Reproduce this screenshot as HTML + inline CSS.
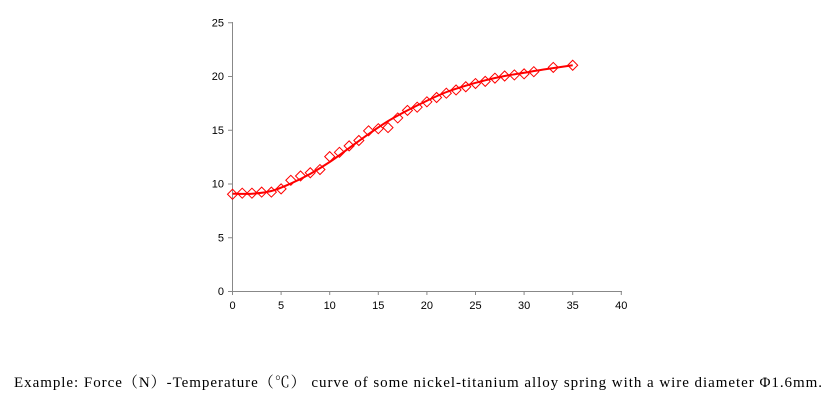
<!DOCTYPE html>
<html><head><meta charset="utf-8"><style>
body{margin:0;background:#fff;width:839px;height:401px;overflow:hidden}
svg{position:absolute;left:0;top:0}
.t{font-family:"Liberation Sans",sans-serif;font-size:11px;fill:#000}
.cap{font-family:"Liberation Serif","Noto Serif CJK SC",serif;font-size:15px;fill:#000}
</style></head><body>
<svg width="839" height="401" id="s">
<g stroke="#888" stroke-width="1" fill="none">
<line x1="232.5" y1="22" x2="232.5" y2="291"/>
<line x1="232" y1="291.5" x2="622" y2="291.5"/>
</g>
<g id="ax"></g>
<path id="curve" fill="none" stroke="#ff0000" stroke-width="2"/>
<g id="mk" fill="none" stroke="#ff0000" stroke-width="1"></g>
<text class="cap" x="14" y="387" textLength="808" lengthAdjust="spacing">Example: Force（N）-Temperature（℃） curve of some nickel-titanium alloy spring with a wire diameter  Φ1.6mm.</text>
</svg>
<script>
var X=function(v){return 232.5+v*9.72},Y=function(v){return 291-v*10.75};
var ax=document.getElementById('ax'),h='';
for(var i=0;i<=25;i+=5){var y=Y(i);h+='<line x1="228" x2="232" y1="'+(y+.5)+'" y2="'+(y+.5)+'" stroke="#888"/><text class="t" x="224" y="'+(y+4)+'" text-anchor="end">'+i+'</text>';}
for(var i=0;i<=40;i+=5){var x=X(i);h+='<line x1="'+x+'" x2="'+x+'" y1="291" y2="295" stroke="#888"/><text class="t" x="'+x+'" y="309" text-anchor="middle">'+i+'</text>';}
ax.innerHTML=h;
var d=[[0,9.0],[1,9.1],[2,9.1],[3,9.2],[4,9.2],[5,9.5],[6,10.3],[7,10.7],[8,11.0],[9,11.3],[10,12.5],[11,12.9],[12,13.5],[13,14.0],[14,14.9],[15,15.1],[16,15.2],[17,16.1],[18,16.8],[19,17.1],[20,17.6],[21,18.0],[22,18.4],[23,18.7],[24,19.0],[25,19.3],[26,19.5],[27,19.8],[28,20.0],[29,20.1],[30,20.2],[31,20.4],[33,20.8],[35,21.0]];
var m='';d.forEach(function(p){var x=X(p[0]),y=Y(p[1]);m+='<path d="M'+(x-5)+' '+y+'L'+x+' '+(y-5)+'L'+(x+5)+' '+y+'L'+x+' '+(y+5)+'Z"/>';});
document.getElementById('mk').innerHTML=m;
var c=[[0,9.05],[2,9.05],[4,9.3],[6,10.0],[8,10.9],[10,12.0],[12,13.3],[14,14.6],[16,15.8],[18,16.8],[20,17.7],[22,18.5],[24,19.1],[26,19.6],[28,20.0],[30,20.3],[32,20.6],[35,21.0]].map(function(p){return [X(p[0]),Y(p[1])]});
var s='M'+c[0][0]+' '+c[0][1];
for(var i=0;i<c.length-1;i++){var p0=c[Math.max(i-1,0)],p1=c[i],p2=c[i+1],p3=c[Math.min(i+2,c.length-1)];
s+='C'+(p1[0]+(p2[0]-p0[0])/6)+' '+(p1[1]+(p2[1]-p0[1])/6)+' '+(p2[0]-(p3[0]-p1[0])/6)+' '+(p2[1]-(p3[1]-p1[1])/6)+' '+p2[0]+' '+p2[1];}
document.getElementById('curve').setAttribute('d',s);
</script>
</body></html>
